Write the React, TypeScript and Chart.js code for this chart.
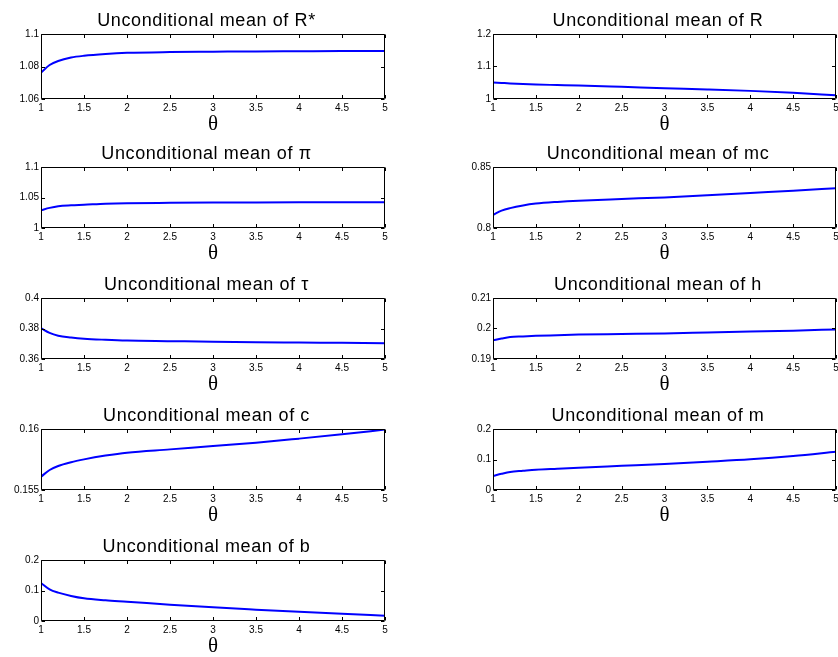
import React, { useEffect, useRef } from 'react';
import { Chart, registerables } from 'chart.js';

Chart.register(...registerables);

// ---------- data ----------
const THETA = [1, 1.1, 1.2, 1.35, 1.5, 1.75, 2, 2.5, 3, 3.5, 4, 4.5, 5];
const X_TICKS = [1, 1.5, 2, 2.5, 3, 3.5, 4, 4.5, 5];
const X_TICK_LABELS = ['1', '1.5', '2', '2.5', '3', '3.5', '4', '4.5', '5'];
const X_LABEL = 'θ';

const R_STAR = [1.0762, 1.0809, 1.0834, 1.0855, 1.0866, 1.0877, 1.0884, 1.0889, 1.0891, 1.0893, 1.0894, 1.0895, 1.0895];
const R_NOM = [1.051, 1.0495, 1.048, 1.046, 1.0445, 1.043, 1.0415, 1.0375, 1.0333, 1.0295, 1.025, 1.019, 1.0115];
const PI_VALS = [1.0291, 1.033, 1.0357, 1.0372, 1.0381, 1.0398, 1.0407, 1.0413, 1.0417, 1.0419, 1.0421, 1.0422, 1.0423];
const MC_VALS = [0.8107, 0.8142, 0.8163, 0.8185, 0.82, 0.8214, 0.8224, 0.8238, 0.8251, 0.8268, 0.8287, 0.8305, 0.8326];
const TAU_VALS = [0.3802, 0.3771, 0.3753, 0.3741, 0.3733, 0.3726, 0.3721, 0.3717, 0.3713, 0.371, 0.3708, 0.3706, 0.3704];
const H_VALS = [0.1961, 0.1967, 0.1972, 0.1974, 0.1976, 0.1978, 0.198, 0.1982, 0.1984, 0.1987, 0.199, 0.1993, 0.1997];
const C_VALS = [0.15609, 0.15664, 0.15697, 0.15728, 0.15751, 0.15782, 0.15806, 0.15833, 0.15861, 0.15888, 0.15921, 0.15956, 0.15995];
const M_VALS = [0.0459, 0.053, 0.059, 0.063, 0.0667, 0.0700, 0.0732, 0.0792, 0.0852, 0.0925, 0.1005, 0.1115, 0.1257];
const B_VALS = [0.1246, 0.1038, 0.0929, 0.082, 0.0743, 0.068, 0.0634, 0.0536, 0.0448, 0.0372, 0.03, 0.0235, 0.0175];

const TITLES = [
  'Unconditional mean of R*',
  'Unconditional mean of R',
  'Unconditional mean of π',
  'Unconditional mean of mc',
  'Unconditional mean of τ',
  'Unconditional mean of h',
  'Unconditional mean of c',
  'Unconditional mean of m',
  'Unconditional mean of b',
];
const SERIES = [R_STAR, R_NOM, PI_VALS, MC_VALS, TAU_VALS, H_VALS, C_VALS, M_VALS, B_VALS];
const Y_TICKS = [
  [1.06, 1.08, 1.1],
  [1, 1.1, 1.2],
  [1, 1.05, 1.1],
  [0.8, 0.85],
  [0.36, 0.38, 0.4],
  [0.19, 0.2, 0.21],
  [0.155, 0.16],
  [0, 0.1, 0.2],
  [0, 0.1, 0.2],
];
const Y_TICK_LABELS = [
  ['1.06', '1.08', '1.1'],
  ['1', '1.1', '1.2'],
  ['1', '1.05', '1.1'],
  ['0.8', '0.85'],
  ['0.36', '0.38', '0.4'],
  ['0.19', '0.2', '0.21'],
  ['0.155', '0.16'],
  ['0', '0.1', '0.2'],
  ['0', '0.1', '0.2'],
];

// ---------- layout ----------
const ROW_TOP = [34, 167, 298, 429, 560];
const ROW_BOTTOM = [99, 228, 359, 490, 621];
const COL_CANVAS_LEFT = [0, 420];
const COL_CANVAS_WIDTH = [419, 418];
const COL_PLOT_LEFT = [41, 493];
const COL_PLOT_RIGHT = [385, 836];
const TOP_SPACE = 34;
const X_AXIS_H = 40;

const frame = {
  id: 'matlabFrame',
  afterDatasetsDraw(chart: any) {
    const { ctx, chartArea: a, scales } = chart;
    const x = scales.x;
    const y = scales.y;
    const L = Math.round(a.left) + 0.5;
    const R = Math.round(a.right) - 0.5;
    const T = Math.round(a.top) + 0.5;
    const B = Math.round(a.bottom) - 0.5;
    const tl = 3.5;
    ctx.save();
    ctx.strokeStyle = '#000';
    ctx.lineWidth = 1;
    ctx.beginPath();
    ctx.rect(L, T, R - L, B - T);
    x.ticks.forEach((t: any) => {
      const px = Math.round(x.getPixelForValue(t.value)) + 0.5;
      ctx.moveTo(px, B);
      ctx.lineTo(px, B - tl);
      ctx.moveTo(px, T);
      ctx.lineTo(px, T + tl);
    });
    y.ticks.forEach((t: any) => {
      const py = Math.round(y.getPixelForValue(t.value)) + 0.5;
      ctx.moveTo(L, py);
      ctx.lineTo(L + tl, py);
      ctx.moveTo(R, py);
      ctx.lineTo(R - tl, py);
    });
    ctx.stroke();
    ctx.restore();
  },
  afterDraw(chart: any) {
    const { ctx, chartArea: a } = chart;
    const title = chart.options.plugins.matlabFrame?.title || '';
    ctx.save();
    ctx.fillStyle = '#000';
    ctx.font = '18px "Liberation Sans", Arial, sans-serif';
    try { (ctx as any).letterSpacing = '0.6px'; } catch (e) {}
    ctx.textAlign = 'center';
    ctx.textBaseline = 'alphabetic';
    ctx.fillText(title, (a.left + a.right) / 2 - 6.5, a.top - 8);
    ctx.restore();
  },
};

function Panel({ idx }: { idx: number }) {
  const ref = useRef<HTMLCanvasElement>(null);
  const row = Math.floor(idx / 2);
  const col = idx % 2;
  const plotH = ROW_BOTTOM[row] - ROW_TOP[row];
  const cLeft = COL_CANVAS_LEFT[col];
  const cWidth = COL_CANVAS_WIDTH[col];
  const cTop = ROW_TOP[row] - TOP_SPACE;
  const cHeight = plotH + TOP_SPACE + X_AXIS_H;
  const yAxisW = COL_PLOT_LEFT[col] - cLeft;
  const padRight = cLeft + cWidth - COL_PLOT_RIGHT[col];

  useEffect(() => {
    const vals = SERIES[idx];
    const yt = Y_TICKS[idx];
    const ytl = Y_TICK_LABELS[idx];
    const chart = new Chart(ref.current as HTMLCanvasElement, {
      type: 'line',
      data: {
        datasets: [
          {
            data: THETA.map((t, i) => ({ x: t, y: vals[i] })),
            borderColor: '#0000ff',
            borderWidth: 2,
            pointRadius: 0,
            cubicInterpolationMode: 'monotone',
            fill: false,
          },
        ],
      },
      options: {
        animation: false,
        responsive: false,
        devicePixelRatio: 1,
        events: [],
        layout: { padding: { top: TOP_SPACE, left: 0, right: padRight, bottom: 0 } },
        plugins: {
          legend: { display: false },
          tooltip: { enabled: false },
          title: { display: false },
          matlabFrame: { title: TITLES[idx] },
        } as any,
        scales: {
          x: {
            type: 'linear',
            min: X_TICKS[0],
            max: X_TICKS[X_TICKS.length - 1],
            afterBuildTicks: (s: any) => {
              s.ticks = X_TICKS.map((v) => ({ value: v }));
            },
            afterFit: (s: any) => {
              s.height = X_AXIS_H;
              s.paddingLeft = 0;
              s.paddingRight = 0;
            },
            grid: { display: false, drawTicks: false },
            border: { display: false },
            ticks: {
              autoSkip: false,
              maxRotation: 0,
              padding: 3,
              color: '#000',
              font: { family: '"Liberation Sans", Arial, sans-serif', size: 10 },
              callback: (_v: any, i: number) => X_TICK_LABELS[i],
            },
            title: {
              display: true,
              text: X_LABEL,
              color: '#000',
              font: { family: '"Liberation Serif", "Times New Roman", serif', size: 21, lineHeight: 1 },
              padding: { top: 0, bottom: 4.5 },
            },
          },
          y: {
            type: 'linear',
            min: yt[0],
            max: yt[yt.length - 1],
            afterBuildTicks: (s: any) => {
              s.ticks = yt.map((v) => ({ value: v }));
            },
            afterFit: (s: any) => {
              s.width = yAxisW;
              s.paddingTop = 0;
              s.paddingBottom = 0;
            },
            grid: { display: false, drawTicks: false },
            border: { display: false },
            ticks: {
              autoSkip: false,
              padding: 2,
              color: '#000',
              font: { family: '"Liberation Sans", Arial, sans-serif', size: 10 },
              callback: (_v: any, i: number) => ytl[i],
            },
          },
        },
      },
      plugins: [frame],
    } as any);
    return () => chart.destroy();
  }, [idx]);

  return (
    <canvas
      ref={ref}
      width={cWidth}
      height={cHeight}
      style={{ position: 'absolute', left: cLeft, top: cTop, width: cWidth, height: cHeight }}
    />
  );
}

export default function App() {
  return (
    <div style={{ position: 'absolute', left: 0, top: 0, width: 838, height: 657, background: '#fff', overflow: 'hidden' }}>
      {TITLES.map((_, i) => (
        <Panel key={i} idx={i} />
      ))}
    </div>
  );
}
